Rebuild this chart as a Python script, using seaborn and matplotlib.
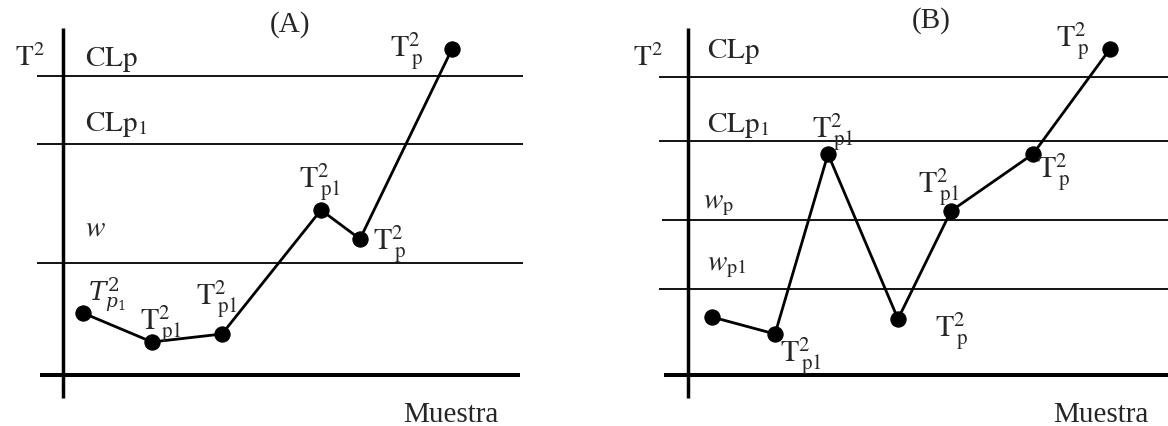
import matplotlib
matplotlib.use("Agg")
import matplotlib.pyplot as plt
import seaborn as sns
import pandas as pd

# ---- Panel (A): one chart with a single warning zone ----
a_sample = [2.0, 8.9, 15.9, 25.8, 29.7, 38.9]
a_t2 = [6.2, 3.3, 4.1, 16.5, 13.6, 32.6]
a_point_labels = [
    r"$T^{2}_{p_{1}}$",
    r"$\mathrm{T}^{2}_{\,\mathrm{p1}}$",
    r"$\mathrm{T}^{2}_{\,\mathrm{p1}}$",
    r"$\mathrm{T}^{2}_{\,\mathrm{p1}}$",
    r"$\mathrm{T}^{2}_{\,\mathrm{p}}$",
    r"$\mathrm{T}^{2}_{\,\mathrm{p}}$",
]
a_limits = [29.9, 23.1, 11.2]
a_limit_labels = [r"$\mathrm{CLp}$", r"$\mathrm{CLp}_{1}$", r"$w$"]

# ---- Panel (B): two warning zones ----
b_sample = [2.4, 8.7, 14.0, 21.0, 26.3, 34.5, 42.2]
b_t2 = [5.8, 4.1, 22.1, 5.6, 16.4, 22.1, 32.6]
b_point_labels = [
    None,
    r"$\mathrm{T}^{2}_{\,\mathrm{p1}}$",
    r"$\mathrm{T}^{2}_{\,\mathrm{p1}}$",
    r"$\mathrm{T}^{2}_{\,\mathrm{p}}$",
    r"$\mathrm{T}^{2}_{\,\mathrm{p1}}$",
    r"$\mathrm{T}^{2}_{\,\mathrm{p}}$",
    r"$\mathrm{T}^{2}_{\,\mathrm{p}}$",
]
b_limits = [29.8, 23.4, 15.5, 8.6]
b_limit_labels = [r"$\mathrm{CLp}$", r"$\mathrm{CLp}_{1}$",
                  r"$w_{\mathrm{p}}$", r"$w_{\mathrm{p1}}$"]

sns.set_theme(style="white")
plt.rcParams["font.family"] = ["Liberation Serif", "DejaVu Serif"]

fig = plt.figure(figsize=(11.68, 4.26), dpi=100)
W, H = 1168, 426

def make_axes(left_px, width_px, xlo):
    ax = fig.add_axes([left_px / W, 11 / H, width_px / W, 400 / H])
    ax.set_xlim(xlo, xlo + width_px / 10)
    ax.set_ylim(-4.0, 36.0)
    ax.set_axis_off()
    return ax

ax_a = make_axes(30, 500, -3.3)
ax_b = make_axes(640, 528, -4.8)

TXT = 21
LBL = 21.5


def draw_panel(ax, title, title_x, title_y, sample, t2, labels, offsets,
               limits, limit_labels, limit_label_dy, limit_label_x,
               line_x0, line_x1, base_x0, base_x1, t2_x, muestra_x):
    # warning / control limits
    for lim, lab, dy, lx, x0 in zip(limits, limit_labels, limit_label_dy,
                                    limit_label_x, line_x0):
        ax.hlines(lim, x0, line_x1, color="black", lw=1.3, zorder=1)
        ax.text(lx, lim + dy, lab, fontsize=TXT, math_fontfamily="stix",
                ha="left", va="baseline")
    # axes of the chart
    ax.vlines(0, -2.3, 34.7, color="black", lw=2.5, zorder=2)
    ax.hlines(0, base_x0, base_x1, color="black", lw=2.9, zorder=2)

    df = pd.DataFrame({"muestra": sample, "t2": t2})
    sns.lineplot(data=df, x="muestra", y="t2", ax=ax, color="black",
                 linewidth=2.0, marker="o", markersize=11,
                 markeredgecolor="black", zorder=3, legend=False)
    ax.set_axis_off()

    for x, y, lab, off in zip(sample, t2, labels, offsets):
        if lab is None:
            continue
        kw = dict(math_fontfamily="stix", fontsize=LBL)
        if lab.startswith(r"$T"):
            kw = dict(math_fontfamily="dejavuserif", fontsize=19)
        ax.annotate(lab, xy=(x, y), xytext=off, textcoords="offset pixels",
                    ha="left", va="baseline", **kw)

    ax.text(t2_x, 30.9, r"$\mathrm{T}^{2}$", fontsize=TXT,
            math_fontfamily="stix", ha="left", va="baseline")
    ax.text(title_x, title_y, title, fontsize=TXT, ha="center",
            va="baseline")
    ax.text(muestra_x, -4.7, "Muestra", fontsize=TXT, ha="left",
            va="baseline", clip_on=False)


draw_panel(ax_a, "(A)", 22.7, 34.3, a_sample, a_t2, a_point_labels,
           [(5, 12), (-12, 12), (-26, 29), (-22, 22), (13, -11), (-62, -8)],
           a_limits, a_limit_labels, [1.0, 1.3, 2.8], [2.2, 2.2, 2.2],
           [-2.6, -2.6, -2.6], 46.0, -2.3, 45.7, -4.8, 34.0)

draw_panel(ax_b, "(B)", 24.3, 34.7, b_sample, b_t2, b_point_labels,
           [None, (5, -28), (-16, 16), (37, -18), (-33, 18), (4, -24),
            (-54, 2)],
           b_limits, b_limit_labels, [1.9, 0.9, 1.2, 1.9],
           [1.9, 1.9, 1.5, 1.9],
           [-2.9, -2.9, -2.6, -2.9], 48.0, -2.4, 48.0, -5.5, 36.5)

fig.savefig("out.png", dpi=100, facecolor="white")
